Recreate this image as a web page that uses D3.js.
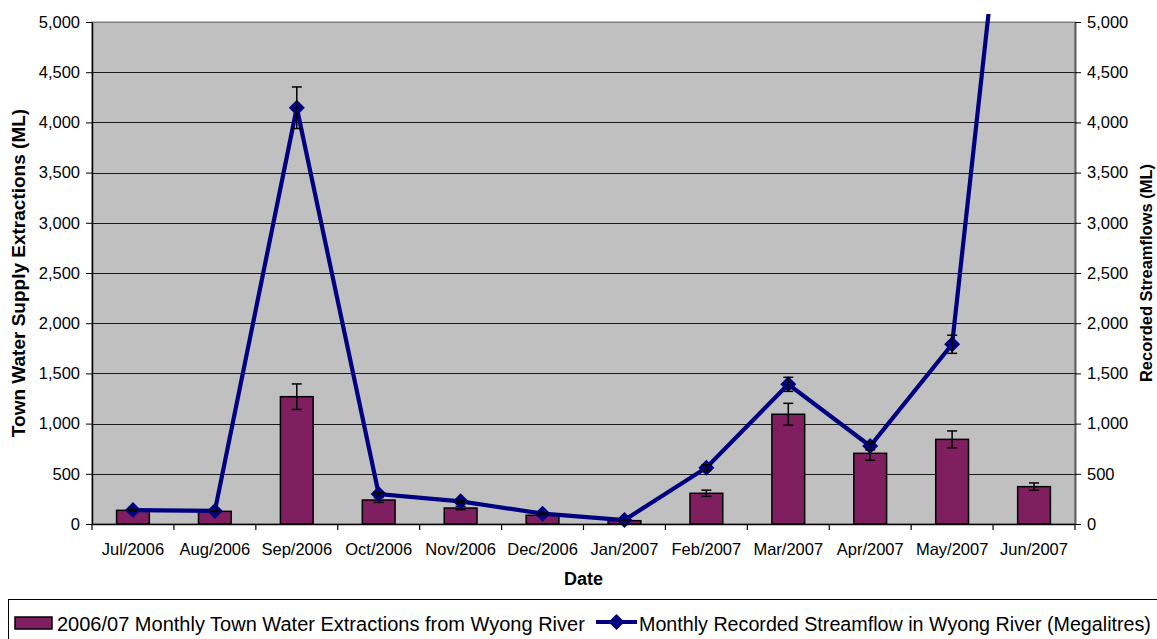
<!DOCTYPE html>
<html>
<head>
<meta charset="utf-8">
<script src="https://cdn.jsdelivr.net/npm/d3@7"></script>
<style>
  html, body { margin: 0; padding: 0; background: #fff; }
  svg { display: block; font-family: "Liberation Sans", Arial, sans-serif; }
</style>
</head>
<body>
<svg id="chart" width="1157" height="639"></svg>
<script>
const months = ["Jul/2006","Aug/2006","Sep/2006","Oct/2006","Nov/2006","Dec/2006","Jan/2007","Feb/2007","Mar/2007","Apr/2007","May/2007","Jun/2007"];
const extractions = [136, 126, 1268, 239, 159, 87, 33, 306, 1093, 704, 843, 372];
const extractionError = [14, 13, 127, 24, 16, 9, 3, 31, 109, 70, 84, 37];
const streamflow = [139, 130, 4146, 299, 226, 103, 40, 561, 1391, 777, 1790, 9200];
const streamflowError = [7, 7, 207, 15, 11, 5, 2, 28, 70, 39, 90, 460];
const yTicks = [0, 500, 1000, 1500, 2000, 2500, 3000, 3500, 4000, 4500, 5000];
const barLabel = "2006/07 Monthly Town Water Extractions from Wyong River";
const lineLabel = "Monthly Recorded Streamflow in Wyong River (Megalitres)";

const svg = d3.select("#chart");
const L = 92, R = 1075, T = 22, B = 524;
const barColor = "#7f1f5f", lineColor = "#000080";

const x = d3.scaleBand().domain(months).range([L, R]).paddingInner(0.6).paddingOuter(0.3);
const y = d3.scaleLinear().domain([0, 5000]).range([B, T]);
const yR = d3.scaleLinear().domain([0, 5000]).range([B, T]);
const cx = m => x(m) + x.bandwidth() / 2;
const fmt = d3.format(",");

// plot area
svg.append("rect").attr("x", L).attr("y", T).attr("width", R - L).attr("height", B - T)
  .attr("fill", "#c0c0c0").attr("stroke", "#808080").attr("stroke-width", 1);

// gridlines
svg.append("g").selectAll("line").data(yTicks.filter(d => d > 0)).join("line")
  .attr("x1", L).attr("x2", R)
  .attr("y1", d => Math.round(y(d)) + 0.5).attr("y2", d => Math.round(y(d)) + 0.5)
  .attr("stroke", d => d === 5000 ? "#808080" : "#1a1a1a").attr("stroke-width", 1);

// bars
svg.append("g").selectAll("rect").data(months).join("rect")
  .attr("x", m => x(m)).attr("width", x.bandwidth())
  .attr("y", (m, i) => y(extractions[i])).attr("height", (m, i) => B - y(extractions[i]))
  .attr("fill", barColor).attr("stroke", "#000").attr("stroke-width", 1.5);

function errorBars(g, vals, errs, scale) {
  const grp = g.append("g").attr("stroke", "#000").attr("stroke-width", 1.5).attr("fill", "none");
  months.forEach((m, i) => {
    const c = cx(m), top = scale(vals[i] + errs[i]), bot = scale(vals[i] - errs[i]);
    grp.append("line").attr("x1", c).attr("x2", c).attr("y1", top).attr("y2", bot);
    grp.append("line").attr("x1", c - 5).attr("x2", c + 5).attr("y1", top).attr("y2", top);
    grp.append("line").attr("x1", c - 5).attr("x2", c + 5).attr("y1", bot).attr("y2", bot);
  });
  return grp;
}
errorBars(svg, extractions, extractionError, y);

// clip for line
svg.append("defs").append("clipPath").attr("id", "lineClip")
  .append("rect").attr("x", L).attr("y", 14).attr("width", R - L).attr("height", B - 14 + 10);

const lineG = svg.append("g").attr("clip-path", "url(#lineClip)");
const lineGen = d3.line().x(d => cx(d.m)).y(d => yR(d.v));
const lineData = months.map((m, i) => ({ m, v: streamflow[i] }));
lineG.append("path").datum(lineData).attr("d", lineGen)
  .attr("fill", "none").attr("stroke", lineColor).attr("stroke-width", 4.2).attr("stroke-linejoin", "miter");
const clipErr = svg.append("g").attr("clip-path", "url(#lineClip)");
errorBars(clipErr, streamflow, streamflowError, yR);
const diamond = "M0,-8L8,0L0,8L-8,0Z";
lineG.append("g").selectAll("path").data(lineData).join("path")
  .attr("d", diamond).attr("transform", d => `translate(${cx(d.m)},${yR(d.v)})`)
  .attr("fill", lineColor);

// axes
const leftAxis = svg.append("g").attr("transform", `translate(${L},0)`)
  .call(d3.axisLeft(y).tickValues(yTicks).tickFormat(fmt).tickSize(6).tickSizeOuter(0));
leftAxis.select(".domain").attr("stroke", "#000").attr("stroke-width", 1.5);
leftAxis.selectAll("text").attr("font-size", 16.5).attr("fill", "#000").attr("x", -12).attr("font-family", "Liberation Sans, Arial, sans-serif");
leftAxis.selectAll(".tick line").attr("stroke", "#000");

const rightAxis = svg.append("g").attr("transform", `translate(${R},0)`)
  .call(d3.axisRight(yR).tickValues(yTicks).tickFormat(fmt).tickSize(6).tickSizeOuter(0));
rightAxis.select(".domain").attr("stroke", "#606060").attr("stroke-width", 2);
rightAxis.selectAll("text").attr("font-size", 16.5).attr("fill", "#000").attr("x", 12).attr("font-family", "Liberation Sans, Arial, sans-serif");
rightAxis.selectAll(".tick line").attr("stroke", "#000");

// x axis
svg.append("line").attr("x1", L).attr("x2", R).attr("y1", B + 0.5).attr("y2", B + 0.5)
  .attr("stroke", "#000").attr("stroke-width", 1.5);
const bounds = d3.range(months.length + 1).map(i => L + i * x.step());
svg.append("g").selectAll("line").data(bounds).join("line")
  .attr("x1", d => d).attr("x2", d => d).attr("y1", B).attr("y2", B + 6)
  .attr("stroke", "#000").attr("stroke-width", 1.2);
svg.append("g").selectAll("text").data(months).join("text")
  .attr("x", m => cx(m)).attr("y", 555).attr("text-anchor", "middle")
  .attr("font-size", 16.5).text(m => m);

// titles
svg.append("text").attr("x", (L + R) / 2).attr("y", 585).attr("text-anchor", "middle")
  .attr("font-size", 18).attr("font-weight", "bold").text("Date");
svg.append("text").attr("transform", `translate(25,${(T + B) / 2}) rotate(-90)`)
  .attr("text-anchor", "middle").attr("font-size", 19).attr("font-weight", "bold")
  .text("Town Water Supply Extractions (ML)");
svg.append("text").attr("transform", `translate(1152,${(T + B) / 2}) rotate(-90)`)
  .attr("text-anchor", "middle").attr("font-size", 16.5).attr("font-weight", "bold")
  .text("Recorded Streamflows (ML)");

// legend
svg.append("rect").attr("x", 8.5).attr("y", 599.5).attr("width", 1170).attr("height", 60)
  .attr("fill", "#fff").attr("stroke", "#000").attr("stroke-width", 1);
svg.append("rect").attr("x", 15).attr("y", 617).attr("width", 37).attr("height", 12)
  .attr("fill", barColor).attr("stroke", "#000").attr("stroke-width", 1.5);
svg.append("text").attr("x", 57).attr("y", 631).attr("font-size", 20).text(barLabel);
svg.append("line").attr("x1", 596).attr("x2", 637).attr("y1", 622).attr("y2", 622)
  .attr("stroke", lineColor).attr("stroke-width", 4);
svg.append("path").attr("d", diamond).attr("transform", "translate(616.5,622)").attr("fill", lineColor);
svg.append("text").attr("x", 639).attr("y", 631).attr("font-size", 19.7).text(lineLabel);
</script>
</body>
</html>
